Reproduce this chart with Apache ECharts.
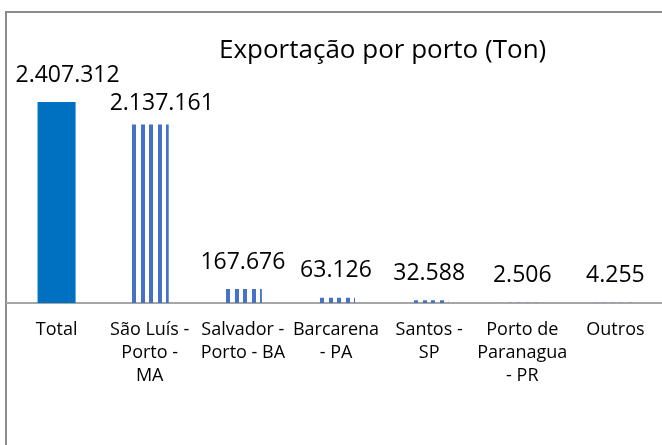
<!DOCTYPE html>
<html>
<head>
<meta charset="utf-8">
<script src="https://cdn.jsdelivr.net/npm/echarts@6/dist/echarts.min.js"></script>
<style>
  html, body { margin: 0; padding: 0; background: #fff; }
  #chart { width: 662px; height: 445px; }
</style>
</head>
<body>
<div id="chart"></div>
<script>
var titleText = "Exportação por porto (Ton)";
var categories = ["Total", "São Luís -\nPorto -\nMA", "Salvador -\nPorto - BA", "Barcarena\n- PA", "Santos -\nSP", "Porto de\nParanagua\n- PR", "Outros"];
var values = [2407312, 2137161, 167676, 63126, 32588, 2506, 4255];

var font = "'Open Sans', sans-serif";

function fmt(v) {
  return String(v).replace(/\B(?=(\d{3})+(?!\d))/g, ".");
}

// vertical stripes like the excel pattern fill (two stripes per tile, ~8.5px period)
function stripes(offsetX) {
  var c = document.createElement("canvas");
  c.width = 17;
  c.height = 10;
  var ctx = c.getContext("2d");
  ctx.fillStyle = "#4472c4";
  ctx.fillRect(0, 0, 4, 10);
  ctx.fillRect(9, 0, 4, 10);
  return { image: c, repeat: "repeat", x: offsetX, y: 0 };
}

var gridLeft = 10, catW = 94, barW = 38;

var barData = values.map(function (v, i) {
  var item = { value: v, label: { distance: 15, offset: [0, 0] } };
  if (i === 0) {
    item.itemStyle = { color: "#0070c0" };
    item.label.offset = [11, 0];
  } else {
    item.itemStyle = { color: stripes(gridLeft + catW * i + (catW - barW) / 2) };
  }
  if (i === 1) {
    item.label.offset = [12, 0];
    item.label.distance = 9;
  }
  return item;
});

var myChart = echarts.init(document.getElementById("chart"), null, { renderer: "canvas" });
myChart.setOption({
  backgroundColor: "#fff",
  animation: false,
  title: {
    text: titleText,
    left: 214,
    top: 33,
    textStyle: { fontFamily: font, fontSize: 26, fontWeight: "normal", color: "#000" }
  },
  graphic: [{
    type: "rect",
    shape: { x: 6, y: 12, width: 720, height: 500 },
    style: { fill: null, stroke: "#8c8c8c", lineWidth: 2 },
    silent: true
  }, {
    type: "line",
    shape: { x1: 6, y1: 303, x2: 12, y2: 303 },
    style: { stroke: "#a6a6a6", lineWidth: 2 },
    silent: true
  }],
  grid: {
    left: gridLeft,
    width: catW * categories.length,
    top: 52.5,
    bottom: 142
  },
  xAxis: {
    type: "category",
    data: categories,
    axisTick: { show: false },
    axisLine: { lineStyle: { color: "#a6a6a6", width: 2 } },
    axisLabel: {
      interval: 0,
      margin: 15,
      fontFamily: font,
      fontSize: 18,
      lineHeight: 23,
      color: "#000"
    }
  },
  yAxis: {
    type: "value",
    min: 0,
    max: 3000000,
    show: false,
    splitLine: { show: false }
  },
  series: [{
    type: "bar",
    barWidth: barW,
    data: barData,
    label: {
      show: true,
      position: "top",
      fontFamily: font,
      fontSize: 23,
      lineHeight: 24,
      color: "#000",
      formatter: function (p) { return fmt(p.value); }
    }
  }]
});
</script>
</body>
</html>
